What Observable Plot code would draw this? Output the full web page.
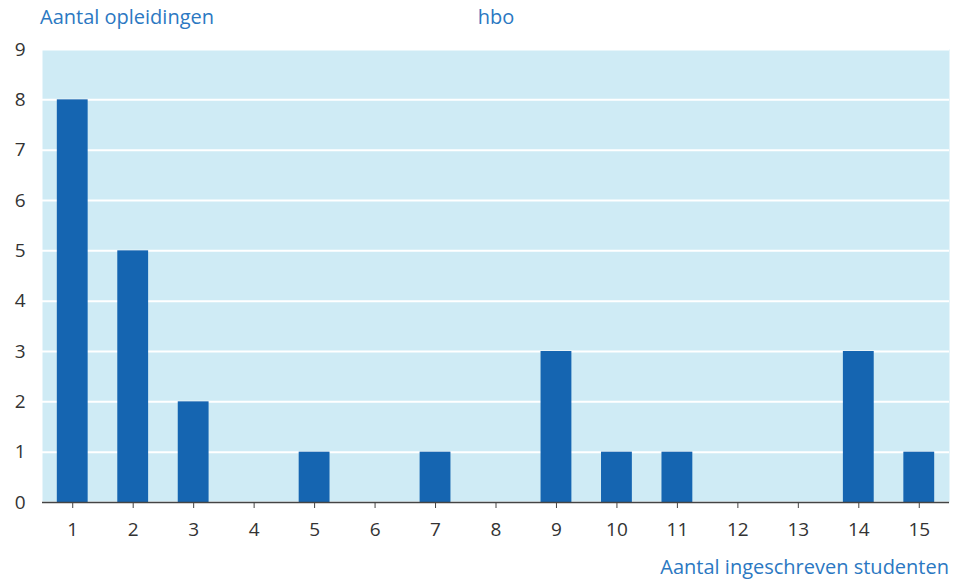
<!DOCTYPE html>
<html>
<head>
<meta charset="utf-8">
<script src="https://cdn.jsdelivr.net/npm/d3@7"></script>
<script src="https://cdn.jsdelivr.net/npm/@observablehq/plot@0.6"></script>
<style>
  body { margin: 0; background: #fff; }
  #wrap { position: relative; width: 956px; height: 580px; font-family: "Open Sans", sans-serif; }
  .lbl { position: absolute; color: #2b78c2; font-size: 20px; white-space: nowrap; line-height: 1; }
</style>
</head>
<body>
<div id="wrap">
  <div class="lbl" id="ytitle" style="left:40px; top:7px;">Aantal opleidingen</div>
  <div class="lbl" id="title" style="left:496px; top:7px; transform:translateX(-50%);">hbo</div>
  <div class="lbl" id="xtitle" style="right:7px; top:557px;">Aantal ingeschreven studenten</div>
</div>
<script>
const categories = [1, 2, 3, 4, 5, 6, 7, 8, 9, 10, 11, 12, 13, 14, 15];
const counts = [8, 5, 2, 0, 1, 0, 1, 0, 3, 1, 1, 0, 0, 3, 1];
const yTicks = [0, 1, 2, 3, 4, 5, 6, 7, 8, 9];

const data = categories.map((c, i) => ({x: c, y: counts[i]}));

const chart = Plot.plot({
  width: 956,
  height: 580,
  marginLeft: 42,
  marginRight: 7,
  marginTop: 49,
  marginBottom: 78,
  style: {fontFamily: "Open Sans, sans-serif", fontSize: "19px", color: "#333", background: "transparent"},
  x: {type: "band", domain: categories, paddingInner: 0.49, paddingOuter: 0.245, round: false, label: null},
  y: {domain: [0, 9], label: null},
  marks: [
    Plot.frame({fill: "#cfebf5", stroke: null}),
    Plot.gridY(yTicks, {stroke: "#fff", strokeOpacity: 1, strokeWidth: 2}),
    Plot.barY(data, {x: "x", y: "y", fill: "#1565b1"}),
    Plot.ruleY([0], {stroke: "#444", strokeWidth: 1.5}),
    Plot.axisY(yTicks, {tickSize: 0, tickPadding: 17, fontSize: 19, fill: "#333", tickFormat: "d", label: null}),
    Plot.axisX({tickSize: 6, tickPadding: 14, fontSize: 19, fill: "#333", stroke: "#444", label: null})
  ]
});
chart.style.position = "absolute";
chart.style.left = "0";
chart.style.top = "0";
document.getElementById("wrap").prepend(chart);
</script>
</body>
</html>
